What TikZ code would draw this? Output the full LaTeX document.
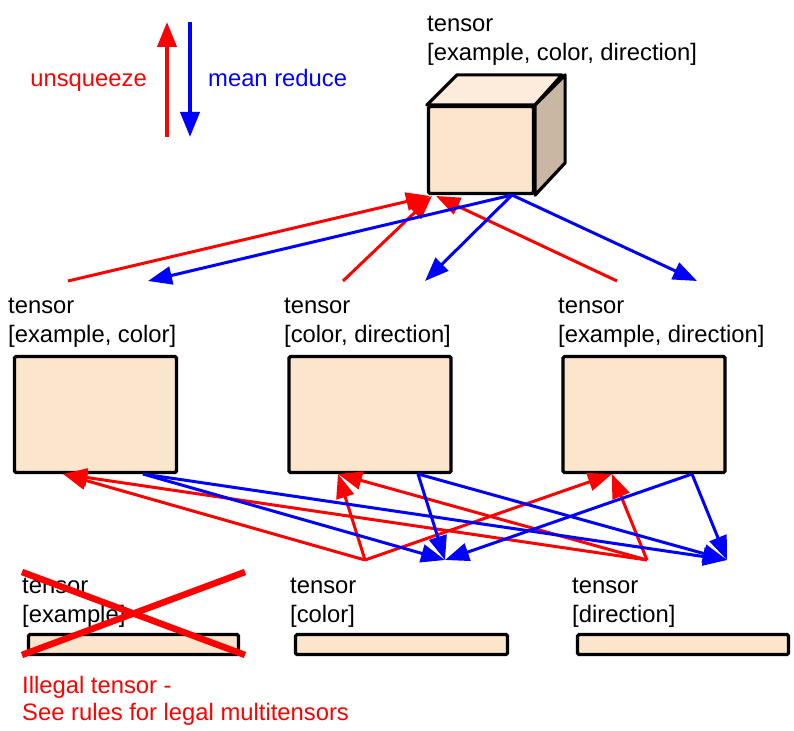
\documentclass[tikz,border=0pt]{standalone}
\usepackage{fontspec}
\setmainfont{Liberation Sans}
\usetikzlibrary{calc,arrows.meta}
\definecolor{tensorfill}{HTML}{FCE5CD}
\definecolor{cubetop}{HTML}{FDEBDC}
\definecolor{cubeside}{HTML}{C9B6A3}
\tikzstyle{tensorbox}=[draw=black,line width=3.2pt,fill=tensorfill,inner sep=0pt,rounded corners=1.5pt]
\tikzstyle{tname}=[anchor=base west,align=left,inner sep=0pt,font=\fontsize{23.8}{29}\selectfont]
\tikzstyle{line}=[line width=3pt]
\tikzstyle{unsq}=[-{Triangle[length=24pt,width=18pt]},red,line]
\tikzstyle{mred}=[-{Triangle[length=24pt,width=18pt]},blue,line]

\begin{document}
\begin{tikzpicture}[x=1pt,y=-1pt]
    \useasboundingbox (0,0) rectangle (794,730);

    % legend
    \coordinate (upFrom) at (167,137);
    \coordinate (upTo) at (167,22);
    \coordinate (downFrom) at (190,22);
    \coordinate (downTo) at (190,137);
    \draw[unsq,line width=4pt,-{Triangle[length=25pt,width=19pt]}] (upFrom) -- (upTo);
    \draw[mred,line width=4pt,-{Triangle[length=25pt,width=19pt]}] (downFrom) -- (downTo);
    \node[tname,anchor=base east,text=red] (unsqtext) at (147,87) {unsqueeze};
    \node[tname,text=blue] (meantext) at (208,87) {mean reduce};

    % full tensor (cube)
    \node[tensorbox,minimum width=105pt,minimum height=87pt] (cube) at (481,150) {};
    \draw[line width=3.2pt,line join=round,fill=cubetop] (cube.north west) -- ++(30,-30) -- ++(105,0) -- (cube.north east) -- cycle;
    \draw[line width=3.2pt,line join=round,fill=cubeside] (cube.north east) -- ++(30,-30) -- ++(0,88) -- (cube.south east) -- cycle;
    \node[tname] (cubetitle) at (427,61) {tensor\\{[example, color, direction]}};

    % two-axis tensors
    \node[tensorbox,minimum width=162pt,minimum height=116pt] (ec) at (95.5,414.5) {};
    \node[tensorbox,minimum width=162pt,minimum height=116pt] (cd) at (370,414.5) {};
    \node[tensorbox,minimum width=162pt,minimum height=116pt] (ed) at (644,414.5) {};
    \node[tname] (ectitle) at (8,342) {tensor\\{[example, color]}};
    \node[tname] (cdtitle) at (284,342) {tensor\\{[color, direction]}};
    \node[tname] (edtitle) at (558,342) {tensor\\{[example, direction]}};

    % one-axis tensors
    \node[tensorbox,minimum width=210pt,minimum height=20pt] (ex) at (133.5,644.5) {};
    \node[tensorbox,minimum width=212pt,minimum height=20pt] (co) at (401.5,644.5) {};
    \node[tensorbox,minimum width=211pt,minimum height=20pt] (di) at (683,644.5) {};
    \node[tname] (extitle) at (22,622) {tensor\\{[example]}};
    \node[tname] (cotitle) at (290,622) {tensor\\{[color]}};
    \node[tname] (dititle) at (572,622) {tensor\\{[direction]}};

    % illegal tensor
    \draw[red,line width=6.5pt] (22,572) -- (245,655);
    \draw[red,line width=6.5pt] (22,655) -- (245,572);
    \node[tname,text=red,font=\fontsize{23.8}{27}\selectfont] (illegal) at (22,720) {Illegal tensor -\\See rules for legal multitensors};

    % connector ends
    \coordinate (cubeR1) at (430,196);
    \coordinate (cubeR2) at (432,196);
    \coordinate (cubeR3) at (436,196);
    \coordinate (cubeB) at (512,195);
    \coordinate (ecUpR) at (68,281);
    \coordinate (ecUpB) at (148,281);
    \coordinate (cdUpR) at (343,281);
    \coordinate (cdUpB) at (425,281);
    \coordinate (edUpR) at (617,281);
    \coordinate (edUpB) at (697,281);
    \coordinate (ecDownR) at (63,474);
    \coordinate (ecDownB) at (143,474);
    \coordinate (cdDownR) at (338,474);
    \coordinate (cdDownB) at (418,474);
    \coordinate (edDownR) at (612,474);
    \coordinate (edDownB) at (692,474);
    \coordinate (coR) at (365,560);
    \coordinate (coB) at (445,560);
    \coordinate (diR) at (647,560);
    \coordinate (diB) at (727,560);

    % cube <-> two-axis
    \draw[unsq] (ecUpR) -- (cubeR1) ;
    \draw[unsq] (cdUpR) -- (cubeR2) ;
    \draw[unsq] (edUpR) -- (cubeR3) ;
    \draw[mred] (cubeB) -- (ecUpB) ;
    \draw[mred] (cubeB) -- (cdUpB) ;
    \draw[mred] (cubeB) -- (edUpB) ;

    % two-axis <-> one-axis
    \draw[unsq] (coR) -- (ecDownR) ;
    \draw[unsq] (coR) -- (cdDownR) ;
    \draw[unsq] (coR) -- (edDownR) ;
    \draw[unsq] (diR) -- (ecDownR) ;
    \draw[unsq] (diR) -- (cdDownR) ;
    \draw[unsq] (diR) -- (edDownR) ;
    \draw[mred] (ecDownB) -- (coB) ;
    \draw[mred] (ecDownB) -- (diB) ;
    \draw[mred] (cdDownB) -- (coB) ;
    \draw[mred] (cdDownB) -- (diB) ;
    \draw[mred] (edDownB) -- (coB) ;
    \draw[mred] (edDownB) -- (diB) ;
\end{tikzpicture}
\end{document}
